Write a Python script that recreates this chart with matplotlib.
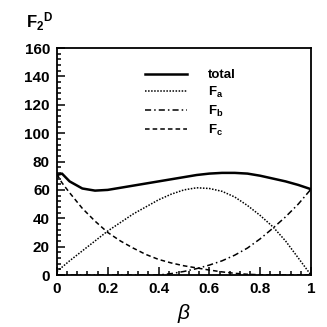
import numpy as np
import matplotlib
matplotlib.use('Agg')
import matplotlib.pyplot as plt
from matplotlib.ticker import MultipleLocator

plt.rcParams['font.family'] = ['Liberation Sans', 'DejaVu Sans']
plt.rcParams['font.weight'] = 'bold'
plt.rcParams['mathtext.fontset'] = 'custom'
plt.rcParams['mathtext.rm'] = 'Liberation Sans:bold'
plt.rcParams['mathtext.it'] = 'Liberation Sans:italic:bold'
plt.rcParams['mathtext.bf'] = 'Liberation Sans:bold'
plt.rcParams['mathtext.default'] = 'bf'

# values
beta = [0.0, 0.02, 0.05, 0.1, 0.15, 0.2, 0.25, 0.3, 0.35, 0.4, 0.45, 0.5,
        0.55, 0.6, 0.65, 0.7, 0.75, 0.8, 0.85, 0.9, 0.95, 1.0]
total = [70.5, 71.5, 66, 61, 59.5, 60, 61.5, 63, 64.5, 66, 67.5, 69,
         70.5, 71.5, 72, 72, 71.5, 70, 68, 66, 63.5, 60.5]
f_a = [2.5, 5.5, 10, 17, 24, 31, 37, 43, 48, 53, 57, 60,
       61.5, 61, 59, 55, 49, 42, 34, 24, 12, 0]
f_b = [0, 0, 0, 0, 0, 0, 0, 0, 0, 0, 1, 2.5,
       4.5, 7, 10, 14, 19, 25.5, 33, 41, 50, 60.5]
f_c = [71, 65, 58, 47, 38, 30, 24, 19, 14.5, 11, 8.5, 6.5,
       5, 3.5, 2.2, 1.2, 0.5, 0.2, 0, 0, 0, 0]

fig = plt.figure(figsize=(3.27, 3.27), dpi=100)
ax = fig.add_axes([0.174, 0.159, 0.777, 0.694])

ax.plot(beta, total, color='black', lw=1.8, label='total')
ax.plot(beta, f_a, color='black', lw=1.1, ls=(0, (1, 1)), label='F$_a$')
ax.plot(beta, f_b, color='black', lw=1.1, ls=(0, (4, 2, 1, 2)), label='F$_b$')
ax.plot(beta, f_c, color='black', lw=1.1, ls=(0, (3, 2)), label='F$_c$')

ax.set_xlim(0, 1)
ax.set_ylim(0, 160)
ax.xaxis.set_major_locator(MultipleLocator(0.2))
ax.xaxis.set_minor_locator(MultipleLocator(0.04))
ax.yaxis.set_major_locator(MultipleLocator(20))
ax.yaxis.set_minor_locator(MultipleLocator(4))
ax.set_xticks([0, 0.2, 0.4, 0.6, 0.8, 1.0])
ax.set_xticklabels(['0', '0.2', '0.4', '0.6', '0.8', '1'])
ax.tick_params(which='both', direction='in', top=False, right=False,
               labelsize=11, width=1.1, pad=5)
ax.tick_params(which='major', length=6)
ax.tick_params(which='minor', length=3)
for sp in ax.spines.values():
    sp.set_linewidth(1.3)

ax.set_xlabel('β', fontsize=15, labelpad=6, fontstyle='italic')
fig.text(0.08, 0.915, 'F$_2$$^D$', fontsize=12, fontweight='bold')

leg = ax.legend(loc='upper left', bbox_to_anchor=(0.3, 0.96), frameon=False,
                fontsize=9.5, handlelength=3.2, handletextpad=1.6,
                labelspacing=0.28)

fig.savefig('out.png', dpi=100)
